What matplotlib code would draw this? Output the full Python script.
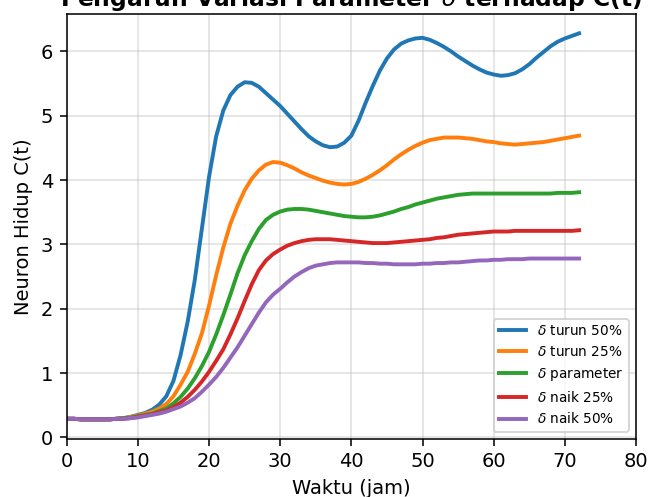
import matplotlib
matplotlib.use("Agg")
import matplotlib.pyplot as plt

# waktu simulasi (jam), tiap 1 jam
waktu = list(range(0, 73))

# C(t) untuk tiap variasi delta
c_turun_50 = [0.29, 0.29, 0.28, 0.28, 0.28, 0.28, 0.28, 0.29, 0.30, 0.32,
              0.35, 0.38, 0.43, 0.51, 0.64, 0.88, 1.28, 1.80, 2.45, 3.25,
              4.05, 4.68, 5.08, 5.32, 5.45, 5.52, 5.51, 5.45, 5.35, 5.25,
              5.15, 5.03, 4.91, 4.79, 4.68, 4.60, 4.54, 4.51, 4.52, 4.58,
              4.69, 4.92, 5.20, 5.46, 5.70, 5.89, 6.03, 6.12, 6.17, 6.20,
              6.21, 6.18, 6.13, 6.07, 6.00, 5.92, 5.85, 5.78, 5.72, 5.67,
              5.64, 5.62, 5.63, 5.66, 5.72, 5.80, 5.90, 5.99, 6.08, 6.15,
              6.20, 6.24, 6.28]
c_turun_25 = [0.29, 0.29, 0.28, 0.28, 0.28, 0.28, 0.28, 0.29, 0.30, 0.32,
              0.34, 0.37, 0.40, 0.45, 0.52, 0.64, 0.82, 1.02, 1.30, 1.62,
              2.05, 2.52, 2.95, 3.32, 3.60, 3.84, 4.02, 4.15, 4.24, 4.28,
              4.27, 4.23, 4.18, 4.12, 4.07, 4.03, 3.99, 3.96, 3.94, 3.93,
              3.94, 3.97, 4.02, 4.08, 4.15, 4.23, 4.32, 4.40, 4.47, 4.53,
              4.58, 4.62, 4.64, 4.66, 4.66, 4.66, 4.65, 4.64, 4.62, 4.60,
              4.59, 4.57, 4.56, 4.55, 4.56, 4.57, 4.58, 4.59, 4.61, 4.63,
              4.65, 4.67, 4.69]
c_parameter = [0.29, 0.29, 0.28, 0.28, 0.28, 0.28, 0.28, 0.29, 0.30, 0.31,
               0.33, 0.35, 0.37, 0.41, 0.45, 0.53, 0.63, 0.76, 0.92, 1.11,
               1.33, 1.60, 1.90, 2.22, 2.55, 2.83, 3.05, 3.24, 3.38, 3.46,
               3.51, 3.54, 3.55, 3.55, 3.54, 3.52, 3.50, 3.48, 3.46, 3.44,
               3.43, 3.42, 3.42, 3.43, 3.45, 3.48, 3.51, 3.55, 3.58, 3.62,
               3.65, 3.68, 3.71, 3.73, 3.75, 3.77, 3.78, 3.79, 3.79, 3.79,
               3.79, 3.79, 3.79, 3.79, 3.79, 3.79, 3.79, 3.79, 3.79, 3.80,
               3.80, 3.80, 3.81]
c_naik_25 = [0.29, 0.29, 0.28, 0.28, 0.28, 0.28, 0.28, 0.29, 0.29, 0.30,
             0.32, 0.34, 0.36, 0.39, 0.42, 0.47, 0.54, 0.63, 0.74, 0.87,
             1.02, 1.19, 1.37, 1.60, 1.85, 2.12, 2.38, 2.60, 2.75, 2.85,
             2.92, 2.98, 3.02, 3.05, 3.07, 3.08, 3.08, 3.08, 3.07, 3.06,
             3.05, 3.04, 3.03, 3.02, 3.02, 3.02, 3.03, 3.04, 3.05, 3.06,
             3.07, 3.08, 3.10, 3.11, 3.13, 3.15, 3.16, 3.17, 3.18, 3.19,
             3.20, 3.20, 3.20, 3.21, 3.21, 3.21, 3.21, 3.21, 3.21, 3.21,
             3.21, 3.21, 3.22]
c_naik_50 = [0.29, 0.29, 0.28, 0.28, 0.28, 0.28, 0.28, 0.29, 0.29, 0.30,
             0.31, 0.33, 0.35, 0.37, 0.40, 0.44, 0.48, 0.54, 0.61, 0.71,
             0.82, 0.94, 1.08, 1.24, 1.40, 1.58, 1.76, 1.94, 2.10, 2.22,
             2.31, 2.41, 2.50, 2.57, 2.63, 2.67, 2.69, 2.71, 2.72, 2.72,
             2.72, 2.72, 2.71, 2.71, 2.70, 2.70, 2.69, 2.69, 2.69, 2.69,
             2.70, 2.70, 2.71, 2.71, 2.72, 2.72, 2.73, 2.74, 2.75, 2.75,
             2.76, 2.76, 2.77, 2.77, 2.77, 2.78, 2.78, 2.78, 2.78, 2.78,
             2.78, 2.78, 2.78]

series = [
    (c_turun_50, r"$\delta$ turun 50%"),
    (c_turun_25, r"$\delta$ turun 25%"),
    (c_parameter, r"$\delta$ parameter"),
    (c_naik_25, r"$\delta$ naik 25%"),
    (c_naik_50, r"$\delta$ naik 50%"),
]

fig = plt.figure(figsize=(651 / 140, 497 / 140), dpi=140)
ax = fig.add_axes([0.1025, 0.1173, 0.8745, 0.8545])

for values, label in series:
    ax.plot(waktu, values, lw=2, label=label)

ax.set_xlim(0, 80)
ax.set_title(r"Pengaruh Variasi Parameter $\delta$ terhadap C(t)",
             fontsize=12, fontweight="bold", pad=4)
ax.set_xlabel("Waktu (jam)")
ax.set_ylabel("Neuron Hidup C(t)")
ax.grid(True, alpha=0.4)
ax.legend(loc="lower right", fontsize=7)

fig.savefig("out.png", dpi=140)
